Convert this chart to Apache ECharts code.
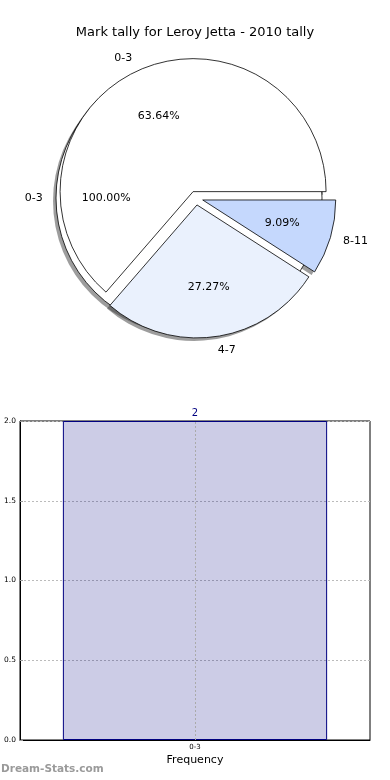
<!DOCTYPE html>
<html>
<head>
<meta charset="utf-8">
<script src="https://cdn.jsdelivr.net/npm/echarts@6/dist/echarts.min.js"></script>
<style>
html,body{margin:0;padding:0;background:#fff;}
#chart{width:390px;height:780px;}
</style>
</head>
<body>
<div id="chart"></div>
<script>
// ---- data ----
var titleText = 'Mark tally for Leroy Jetta - 2010 tally';
var pieAllCategories = ['0-3'];
var pieAllValues = [2];
var pieCategories = ['0-3', '4-7', '8-11'];
var pieValues = [7, 3, 1];
var pieColors = ['#ffffff', '#eaf1fd', '#c5d8fd'];
var barCategories = ['0-3'];
var barValues = [2];
var yTicks = [0.0, 0.5, 1.0, 1.5, 2.0];
var xAxisTitle = 'Frequency';
var watermark = 'Dream-Stats.com';

// ---- layout ----
var FONT = 'DejaVu Sans';
var R = 133;
var C1 = [189, 198];
var C2 = [196, 198];
var EXP = 7;
var SH = [-3, 3];

function mk(cats, vals, extra) {
  return cats.map(function (c, i) {
    var o = { name: c, value: vals[i] };
    if (extra) extra(o, i);
    return o;
  });
}
function pct(p) { return p.percent.toFixed(2) + '%'; }

var basePie = {
  type: 'pie',
  startAngle: 0,
  clockwise: false,
  animation: false,
  silent: true,
  avoidLabelOverlap: false,
  emphasis: { disabled: true },
  labelLine: { show: false }
};
function pie(o) { return Object.assign({}, basePie, o); }

var shadowStyle = { color: 'rgba(60,60,60,0.5)', borderWidth: 0 };

var series = [
  // shadows
  pie({ z: 1, center: [C1[0] + SH[0], C1[1] + SH[1]], radius: R,
    data: mk(pieAllCategories, pieAllValues), itemStyle: shadowStyle, label: { show: false } }),
  pie({ z: 1, center: [C2[0] + SH[0], C2[1] + SH[1]], radius: R,
    selectedMode: 'multiple', selectedOffset: EXP,
    data: mk(pieCategories, pieValues, function (o) { o.selected = true; }),
    itemStyle: shadowStyle, label: { show: false } }),
  // pie 1 (100%)
  pie({ z: 2, center: C1, radius: R,
    data: mk(pieAllCategories, pieAllValues),
    itemStyle: { color: '#ffffff', borderColor: '#000', borderWidth: 0.8 },
    label: { show: true, position: 'outside', formatter: '{b}', fontFamily: FONT, fontSize: 11, color: '#000', distanceToLabelLine: 0 },
    labelLine: { show: false, length: R * 0.1, length2: 0 } }),
  // pie 2
  pie({ z: 3, center: C2, radius: R,
    selectedMode: 'multiple', selectedOffset: EXP,
    data: mk(pieCategories, pieValues, function (o, i) { o.selected = true; o.itemStyle = { color: pieColors[i] }; }),
    itemStyle: { borderColor: '#000', borderWidth: 0.8 },
    select: { itemStyle: { borderColor: '#000', borderWidth: 0.8 } },
    label: { show: true, position: 'outside', formatter: '{b}', fontFamily: FONT, fontSize: 11, color: '#000', distanceToLabelLine: 0 },
    labelLine: { show: false, length: R * 0.1, length2: 0 } }),
  // percent labels
  pie({ z: 5, center: C1, radius: R * 1.2,
    data: mk(pieAllCategories, pieAllValues),
    itemStyle: { color: 'rgba(0,0,0,0)', borderWidth: 0 },
    label: { show: true, position: 'inside', formatter: pct, fontFamily: FONT, fontSize: 11, color: '#000' } }),
  pie({ z: 5, center: C2, radius: R * 1.2,
    selectedMode: 'multiple', selectedOffset: EXP,
    data: mk(pieCategories, pieValues, function (o) { o.selected = true; }),
    itemStyle: { color: 'rgba(0,0,0,0)', borderWidth: 0 },
    select: { itemStyle: { color: 'rgba(0,0,0,0)', borderWidth: 0 } },
    label: { show: true, position: 'inside', formatter: pct, fontFamily: FONT, fontSize: 11, color: '#000' } }),
  // bar
  {
    type: 'bar',
    xAxisIndex: 0, yAxisIndex: 0,
    data: barValues,
    barWidth: '75.5%',
    animation: false,
    silent: true,
    itemStyle: { color: 'rgba(0,0,128,0.2)', borderColor: '#000080', borderWidth: 1 },
    label: { show: true, position: 'top', distance: 3, color: '#000080', fontFamily: FONT, fontSize: 10 },
    markLine: {
      silent: true, symbol: 'none', label: { show: false }, animation: false,
      lineStyle: { color: '#aaa', type: [2, 2], width: 1 },
      data: [{ xAxis: barCategories[0] }]
    }
  }
];

var chart = echarts.init(document.getElementById('chart'), null, { renderer: 'canvas' });
chart.setOption({
  backgroundColor: '#fff',
  animation: false,
  title: {
    text: titleText, left: 'center', top: 21,
    textStyle: { fontFamily: FONT, fontSize: 13, fontWeight: 'normal', color: '#000' }
  },
  grid: { left: 20, right: 20, top: 421, height: 319, show: true, borderColor: '#000', borderWidth: 1, backgroundColor: 'transparent' },
  xAxis: {
    type: 'category', data: barCategories,
    axisLine: { lineStyle: { color: '#000' } },
    axisTick: { alignWithLabel: true, inside: true, length: 3, lineStyle: { color: '#000' } },
    axisLabel: { fontFamily: FONT, fontSize: 7, color: '#000', margin: 4 },
    name: xAxisTitle, nameLocation: 'middle', nameGap: 15,
    nameTextStyle: { fontFamily: FONT, fontSize: 11, color: '#000' }
  },
  yAxis: {
    type: 'value', min: yTicks[0], max: yTicks[yTicks.length - 1], interval: yTicks[1] - yTicks[0],
    axisLine: { show: true, lineStyle: { color: '#000' } },
    axisTick: { show: true, inside: true, length: 3, lineStyle: { color: '#999' } },
    axisLabel: { fontFamily: FONT, fontSize: 7.5, color: '#000', margin: 4, formatter: function (v) { return v.toFixed(1); } },
    splitLine: { show: true, lineStyle: { color: '#bbb', type: [2, 2], width: 1 } }
  },
  graphic: [{
    type: 'text', left: 1, top: 764,
    style: { text: watermark, font: 'bold 10.5px "DejaVu Sans"', fill: '#9a9a9a' }
  }],
  series: series
});
</script>
</body>
</html>
